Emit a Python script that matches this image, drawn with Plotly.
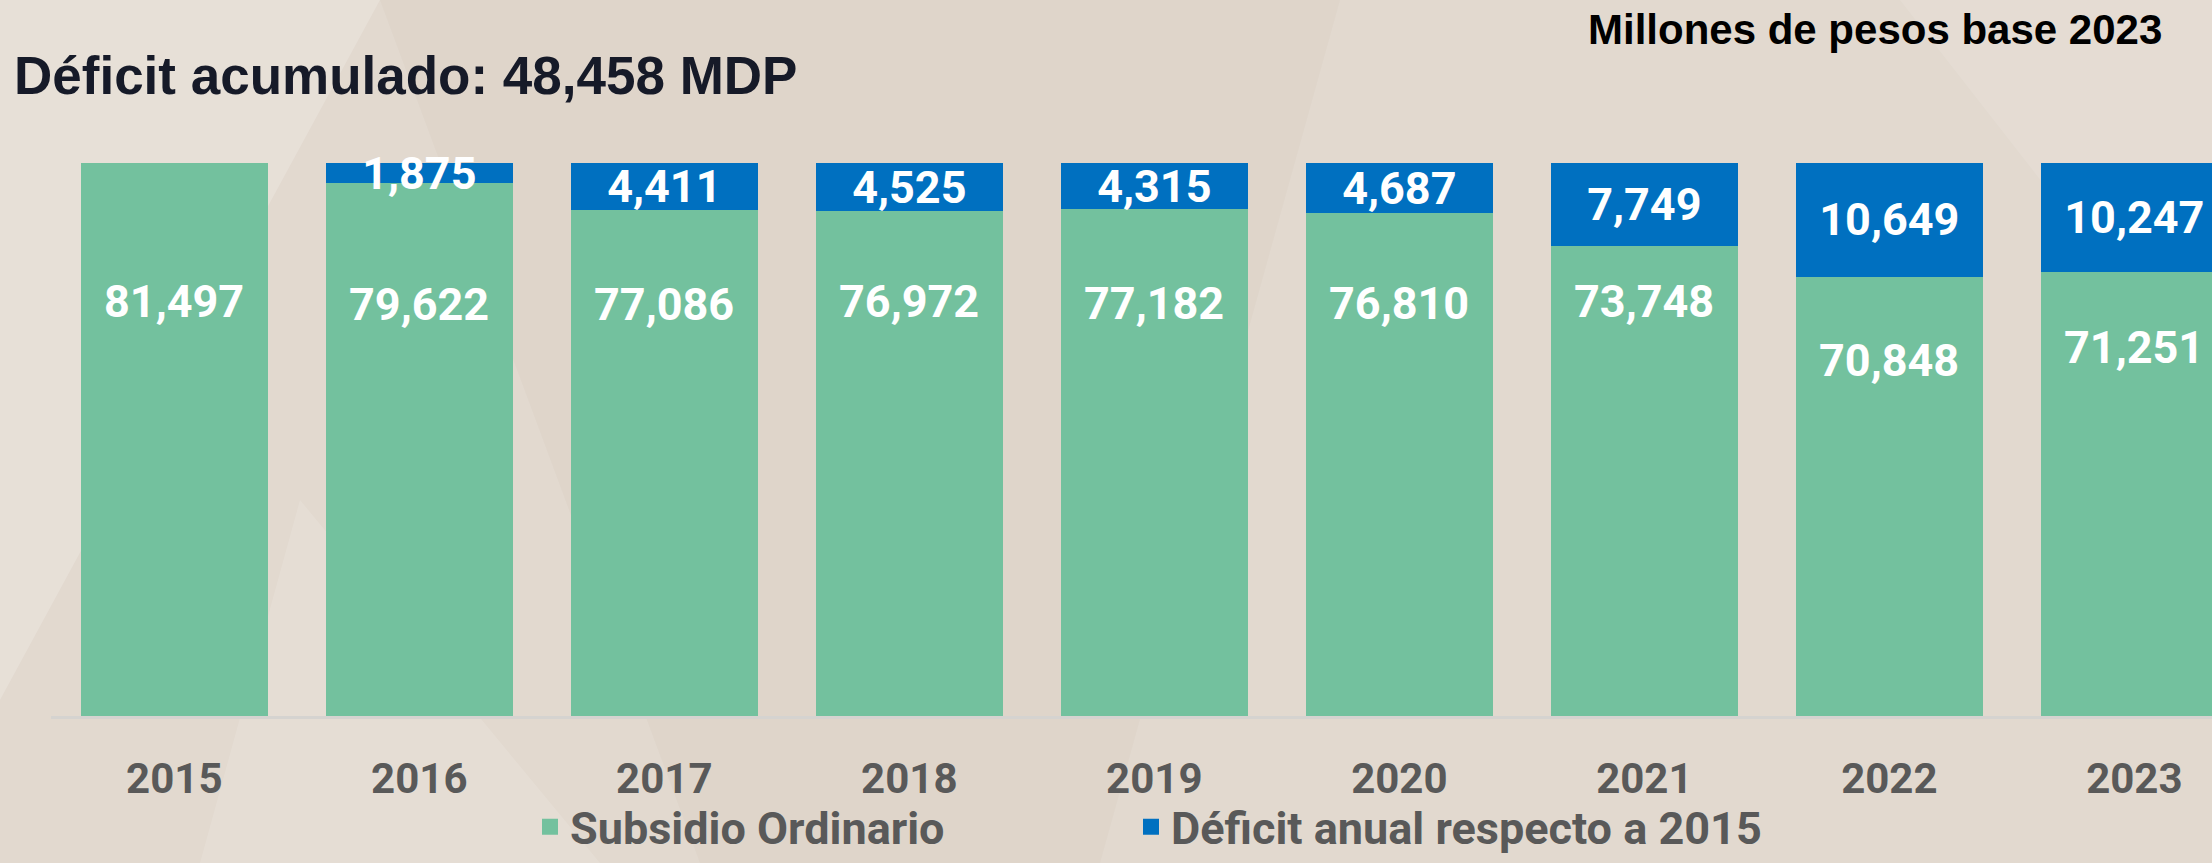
import re
import plotly.graph_objects as go

# ---- data ----
years = ["2015", "2016", "2017", "2018", "2019", "2020", "2021", "2022", "2023"]
subsidio = [81497, 79622, 77086, 76972, 77182, 76810, 73748, 70848, 71251]
deficit = [0, 1875, 4411, 4525, 4315, 4687, 7749, 10649, 10247]
# vertical placement of the green value labels (data units)
subsidio_label_y = [68570, 68200, 68200, 68480, 68380, 68380, 68480, 63040, 64260]

title_text = "Déficit acumulado: 48,458 MDP"
units_text = "Millones de pesos base 2023"
name_sub = "Subsidio Ordinario"
name_def = "Déficit anual respecto a 2015"

GREEN = "#73c19e"
BLUE = "#0070c0"
BG = "#e2d9cf"
W, H = 2212, 863
ML, MR, MT, MB = 0, 0, 163, 147
label_font = dict(family="Roboto", size=45, color="white", weight="bold")

fig = go.Figure()
fig.add_trace(go.Bar(
    x=years, y=subsidio, name=name_sub, marker=dict(color=GREEN, line=dict(width=0)),
    showlegend=False, hoverinfo="x+y"))
fig.add_trace(go.Bar(
    x=years, y=[d if d else None for d in deficit], name=name_def,
    marker=dict(color=BLUE, line=dict(width=0)),
    text=[f"{d:,}" if d else "" for d in deficit],
    textposition="inside", insidetextanchor="middle", constraintext="none",
    textangle=0, textfont=label_font, cliponaxis=False, showlegend=False, hoverinfo="x+y"))

# legend entries (square symbols)
fig.add_trace(go.Scatter(x=[None], y=[None], mode="markers", name=name_sub,
                         marker=dict(symbol="square", size=26, color=GREEN), legend="legend"))
fig.add_trace(go.Scatter(x=[None], y=[None], mode="markers", name=name_def,
                         marker=dict(symbol="square", size=26, color=BLUE), legend="legend2"))

for i, (v, ly) in enumerate(zip(subsidio, subsidio_label_y)):
    fig.add_annotation(x=i, y=ly, text=f"{v:,}", showarrow=False,
                       xref="x", yref="y", yanchor="middle", font=label_font)

ph = H - MT - MB
def py(px):
    return (H - MB - px) / ph

fig.add_annotation(text=title_text, xref="paper", yref="paper", x=12 / W, y=py(76),
                   xanchor="left", yanchor="middle", showarrow=False,
                   font=dict(family="Liberation Sans", size=53, color="#161a28", weight="bold"))
fig.add_annotation(text=units_text, xref="paper", yref="paper", x=2164 / W, y=py(29),
                   xanchor="right", yanchor="middle", showarrow=False,
                   font=dict(family="Liberation Sans", size=42, color="#000000", weight="bold"))

# background diagonal facets (pixel coordinates converted to paper)
facets = [
    ("M 0 0 L 380 0 L 0 700 Z", "rgba(255,255,255,0.18)"),
    (f"M 380 0 L 1340 0 L 1100 {H} L 700 {H} Z", "rgba(150,120,90,0.04)"),
    (f"M 1900 0 L {W} 0 L {W} 400 Z", "rgba(255,255,255,0.10)"),
    (f"M 300 500 L 600 {H} L 200 {H} Z", "rgba(255,255,255,0.12)"),
]
shapes = []
for path, fill in facets:
    pts = re.findall(r"([ML]) (\S+) (\S+)", path)
    p = "".join(f"{c} {(float(a) - ML) / (W - ML - MR):.5f} {py(float(b)):.5f} " for c, a, b in pts)
    shapes.append(dict(type="path", path=p + "Z", xref="paper", yref="paper",
                       fillcolor=fill, line=dict(width=0), layer="below"))
shapes.append(dict(type="line", xref="paper", yref="paper", x0=51 / W, x1=1,
                   y0=py(717.5), y1=py(717.5), line=dict(color="#d5d3d0", width=3), layer="below"))

legend_common = dict(orientation="h", yanchor="bottom", y=py(863), xanchor="left",
                     bgcolor="rgba(0,0,0,0)", borderwidth=0,
                     font=dict(family="Roboto", size=45, color="#595959", weight="bold"))

fig.update_layout(
    width=W, height=H,
    margin=dict(l=ML, r=MR, t=MT, b=MB, pad=0, autoexpand=False),
    paper_bgcolor=BG, plot_bgcolor="rgba(0,0,0,0)",
    barmode="stack", bargap=0.238,
    shapes=shapes,
    showlegend=True,
    legend=dict(x=530 / W, **legend_common),
    legend2=dict(x=1131 / W, **legend_common),
    xaxis=dict(type="category", range=[-0.7114, 8.317], showgrid=False, zeroline=False,
               showline=False, ticks="", ticklabelstandoff=34, automargin=False,
               tickfont=dict(family="Roboto", size=42, color="#595959", weight="bold")),
    yaxis=dict(range=[29700, max(s + d for s, d in zip(subsidio, deficit))],
               visible=False, showgrid=False, zeroline=False, automargin=False),
)

fig.write_html("out.html", config={"displayModeBar": False},
               post_script="document.body.style.margin='0';document.body.style.overflow='hidden';")
